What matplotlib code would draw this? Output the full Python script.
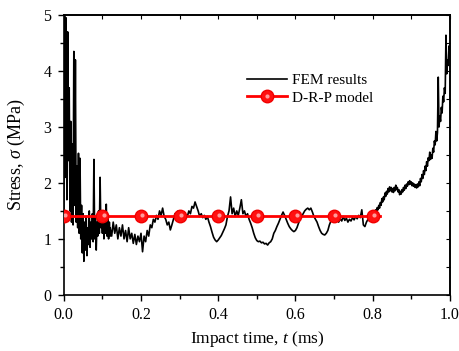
import numpy as np
import matplotlib
matplotlib.use("Agg")
import matplotlib.pyplot as plt
from matplotlib.legend_handler import HandlerTuple
import matplotlib.transforms as mtransforms

plt.rcParams['font.family'] = ['Liberation Serif', 'DejaVu Serif']
plt.rcParams['mathtext.fontset'] = 'custom'
plt.rcParams['mathtext.rm'] = 'Liberation Serif'
plt.rcParams['mathtext.it'] = 'Liberation Serif:italic'

# FEM results in three pieces (uniform time steps)
fem_early = [1.40, 5.00, 2.10, 4.95, 1.70, 4.70, 2.40, 3.70, 1.50, 3.10,
             1.30, 2.70, 1.25, 4.35, 1.60, 4.20, 1.30, 2.30, 1.20, 2.53,
             1.10, 2.44, 1.00, 1.60, 0.75, 1.45, 0.60, 1.30, 0.80, 1.40,
             0.70, 1.20, 0.90, 1.50, 0.85, 1.30, 1.00, 1.45, 0.95, 2.42,
             1.00, 1.40, 0.80, 1.30, 1.05, 1.50, 1.10, 2.10, 1.20, 1.40,
             1.10, 1.50, 1.00, 1.30, 1.10, 1.62, 1.05, 1.40, 1.00, 1.30,
             1.05]
fem_mid = [1.20, 1.05, 1.30, 1.10, 1.25, 1.00, 1.20, 1.05, 1.25, 1.00,
           1.15, 0.95, 1.20, 1.00, 1.10, 0.92, 1.08, 0.90, 1.05, 0.95,
           1.10, 0.77, 1.05, 0.95, 1.15, 1.05, 1.25, 1.20, 1.35, 1.30,
           1.42, 1.35, 1.50, 1.42, 1.55, 1.40, 1.35, 1.25, 1.30, 1.16,
           1.25, 1.35, 1.45, 1.40, 1.50, 1.42, 1.38, 1.45, 1.35, 1.42,
           1.40, 1.50, 1.45, 1.58, 1.55, 1.66, 1.58, 1.50, 1.40, 1.45,
           1.38, 1.42, 1.35, 1.40, 1.30, 1.22, 1.12, 1.03, 0.98, 0.95,
           0.98, 1.02, 1.06, 1.12, 1.18, 1.25, 1.40, 1.50, 1.75, 1.45,
           1.55, 1.40, 1.50, 1.42, 1.55, 1.70, 1.45, 1.50, 1.40, 1.45,
           1.35, 1.28, 1.20, 1.10, 1.02, 0.97, 0.95, 0.96, 0.93, 0.94,
           0.91, 0.92, 0.89, 0.93, 0.95, 1.00, 1.10, 1.15, 1.22, 1.28,
           1.35, 1.42, 1.48, 1.42, 1.35, 1.28, 1.22, 1.18, 1.15, 1.13,
           1.15, 1.20, 1.28, 1.35, 1.40, 1.45, 1.50, 1.53, 1.55, 1.52,
           1.55, 1.48, 1.40, 1.35, 1.30, 1.22, 1.15, 1.10, 1.08, 1.07,
           1.10, 1.15, 1.25, 1.32, 1.38, 1.42, 1.35, 1.38, 1.30, 1.36,
           1.32, 1.40, 1.33, 1.37, 1.30, 1.35, 1.32, 1.38, 1.34, 1.40,
           1.36, 1.42, 1.38, 1.52, 1.25, 1.22, 1.30, 1.35, 1.32, 1.40,
           1.45]
fem_late = [1.42, 1.38, 1.48, 1.44, 1.52, 1.48, 1.56, 1.52, 1.60, 1.55,
            1.65, 1.60, 1.72, 1.66, 1.75, 1.70, 1.82, 1.76, 1.85, 1.80,
            1.90, 1.84, 1.93, 1.86, 1.92, 1.84, 1.90, 1.83, 1.92, 1.86,
            1.96, 1.88, 1.92, 1.84, 1.88, 1.79, 1.85, 1.80, 1.88, 1.84,
            1.92, 1.87, 1.96, 1.90, 1.98, 1.94, 2.02, 1.97, 2.04, 1.98,
            2.02, 1.95, 2.00, 1.94, 1.98, 1.92, 1.97, 1.91, 1.98, 1.93,
            2.02, 1.95, 2.08, 2.02, 2.15, 2.08, 2.22, 2.15, 2.30, 2.22,
            2.38, 2.30, 2.45, 2.40, 2.55, 2.42, 2.50, 2.44, 2.62, 2.55,
            2.75, 2.68, 2.92, 2.75, 2.90, 3.89, 3.00, 3.20, 3.10, 3.35,
            3.25, 3.55, 3.45, 3.70, 3.60, 4.64, 3.95, 4.20, 4.10, 4.45,
            4.38]

fem_t = np.concatenate([np.linspace(0.0, 0.12, len(fem_early)),
                        np.linspace(0.12, 0.80, len(fem_mid)),
                        np.linspace(0.80, 1.00, len(fem_late))])
fem_s = np.array(fem_early + fem_mid + fem_late)

# D-R-P model
drp_t = [0.0, 0.1, 0.2, 0.3, 0.4, 0.5, 0.6, 0.7, 0.8, 0.82]
drp_s = [1.41, 1.41, 1.41, 1.41, 1.41, 1.41, 1.41, 1.41, 1.41, 1.41]

fig = plt.figure(figsize=(4.59, 3.51), dpi=100)
ax = fig.add_axes([0.139, 0.160, 0.841, 0.797])

fem_line, = ax.plot(fem_t, fem_s, color='black', lw=1.2, label='FEM results')
drp_line, = ax.plot(drp_t, drp_s, color='#ff0000', lw=2.0, marker='o', ms=9,
                    markevery=list(range(9)), mfc='#ff1010', mec='#f00000', zorder=3)
hl_trans = mtransforms.offset_copy(ax.transData, fig=fig, x=0.8, y=0.8, units='points')
hl, = ax.plot(drp_t[:9], drp_s[:9], ls='none', marker='o', ms=3,
              mfc='#ff9a9a', mec='none', transform=hl_trans, zorder=4)

ax.set_xlim(0, 1.0)
ax.set_ylim(0, 5)
ax.set_xticks([0.0, 0.2, 0.4, 0.6, 0.8, 1.0])
ax.set_xticks(np.arange(0.1, 1.0, 0.2), minor=True)
ax.set_yticks([0, 1, 2, 3, 4, 5])
ax.set_yticks(np.arange(0.5, 5.0, 1.0), minor=True)
ax.xaxis.set_major_formatter(matplotlib.ticker.FormatStrFormatter('%.1f'))

ax.tick_params(which='both', direction='out', labelsize=11.5, width=1.0,
               top=False, right=False)
ax.tick_params(which='major', length=4, pad=5)
ax.tick_params(which='minor', length=3)

axt = ax.secondary_xaxis('top')
axt.set_xticks(np.arange(0.0, 1.01, 0.1))
axt.tick_params(direction='in', length=3, labeltop=False)
axr = ax.secondary_yaxis('right')
axr.set_yticks(np.arange(0.0, 5.01, 0.5))
axr.tick_params(direction='in', length=3, labelright=False)

for sp in ax.spines.values():
    sp.set_linewidth(1.2)
axt.spines['top'].set_linewidth(1.2)
axr.spines['right'].set_linewidth(1.2)

ax.set_xlabel('Impact time, $t$ (ms)', fontsize=12.5, labelpad=4)
ax.set_ylabel('Stress, $\\sigma$ (MPa)', fontsize=13, labelpad=12)

ax.legend([fem_line, (drp_line, hl)], ['FEM results', 'D-R-P model'],
          handler_map={tuple: HandlerTuple(ndivide=1, pad=0)},
          loc='upper left', bbox_to_anchor=(0.44, 0.84), frameon=False,
          fontsize=11, handlelength=2.6, handletextpad=0.3, labelspacing=0.25)

fig.savefig('out.png', dpi=100)
